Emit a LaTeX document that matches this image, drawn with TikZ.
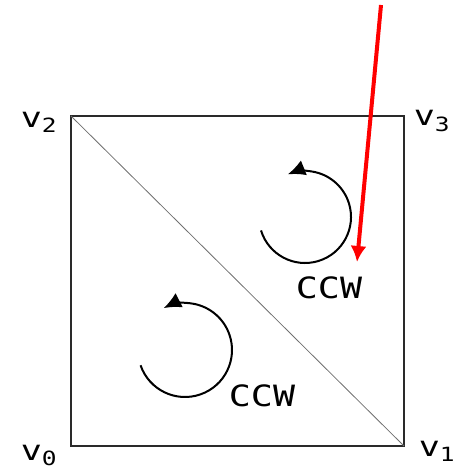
\documentclass[tikz,border=0pt]{standalone}
\usepackage{fontspec}
\setmonofont[FakeStretch=1.25]{DejaVu Sans Mono}
\usepackage{tikz}
\usetikzlibrary{arrows.meta}
\definecolor{edgeDark}  {HTML}{2A2A2A}
\definecolor{diagGray}  {HTML}{707070}
\definecolor{pointerRed}{HTML}{FF0000}

\begin{document}
\begin{tikzpicture}[x=0.75pt, y=0.75pt,
    vlabel/.style={font=\ttfamily\fontsize{21}{21}\selectfont, inner sep=0pt},
    turnlabel/.style={font=\ttfamily\fontsize{22}{22}\selectfont, inner sep=0pt},
    turnarc/.style={line width=1.5pt, -{Latex[length=13pt, width=12pt]}},
  ]
        \useasboundingbox (0, 0) rectangle (459, 470);
        % corners of the square
        \coordinate (c0) at (71, 24);
        \coordinate (c1) at (404, 24);
        \coordinate (c2) at (71, 354);
        \coordinate (c3) at (404, 354);
        \draw[line width=1.2pt, draw=edgeDark] (c0) -- (c1) -- (c3) -- (c2) -- cycle;
        \draw[line width=0.6pt, draw=diagGray] (c2) -- (c1);
        % vertex names
        \node[vlabel] (v0) at (39, 15) {v\textsubscript{0}};
        \node[vlabel] (v1) at (437, 19) {v\textsubscript{1}};
        \node[vlabel] (v2) at (39, 348) {v\textsubscript{2}};
        \node[vlabel] (v3) at (432, 349) {v\textsubscript{3}};
        % turning sense of each triangle
        \draw[turnarc] (305, 253) ++(197:46) arc[start angle=197, end angle=472, radius=46];
        \node[turnlabel] (ccwA) at (329, 182) {CCW};
        \draw[turnarc] (185, 120) ++(199:47) arc[start angle=199, end angle=477, radius=47];
        \node[turnlabel] (ccwB) at (262, 74) {CCW};
        % pointer from above
        \coordinate (tail) at (381, 465);
        \coordinate (tip) at (357, 208);
        \draw[line width=3pt, draw=pointerRed, -{Latex[length=12pt, width=12pt]}] (tail) -- (tip);
      \end{tikzpicture}
\end{document}
